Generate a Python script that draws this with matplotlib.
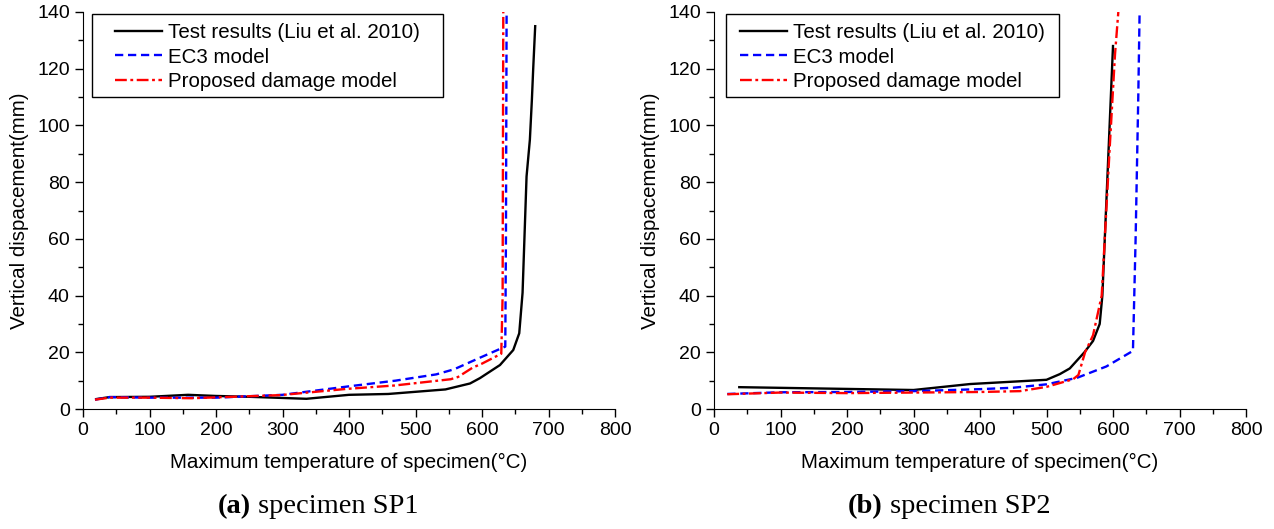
import matplotlib
matplotlib.use("Agg")
import matplotlib.pyplot as plt
from matplotlib.patches import Rectangle
from matplotlib.ticker import MultipleLocator

plt.rcParams['font.family'] = ['Liberation Sans', 'DejaVu Sans']

# specimen SP1 (temperature in C, displacement in mm)
sp1_test_t = [20, 40, 100, 158, 200, 250, 336, 400, 459, 545, 582, 597, 627, 647, 656, 661, 667, 672, 675, 677, 680]
sp1_test_d = [3.5, 4.2, 4.3, 5.0, 4.6, 4.3, 3.6, 5.0, 5.3, 6.9, 9.0, 10.9, 15.5, 20.8, 26.7, 41, 82, 95, 109, 120, 135]
sp1_ec3_t = [18, 40, 100, 200, 300, 400, 470, 531, 558, 598, 635, 636, 637]
sp1_ec3_d = [3.3, 4.2, 4.0, 4.0, 5.0, 8.0, 10.0, 12.2, 14.0, 18.2, 22, 60, 140]
sp1_dmg_t = [18, 40, 100, 163, 200, 297, 397, 469, 553, 564, 586, 600, 629, 631, 632]
sp1_dmg_d = [3.3, 4.0, 4.0, 3.8, 4.1, 4.9, 7.1, 8.3, 10.5, 11.3, 14.6, 16.0, 19.5, 40, 140]

# specimen SP2
sp2_test_t = [38, 300, 385, 500, 520, 535, 557, 570, 580, 584, 600]
sp2_test_d = [7.7, 6.7, 8.8, 10.3, 12.3, 14.3, 20, 24, 30, 40, 128]
sp2_ec3_t = [20, 100, 200, 300, 400, 450, 500, 546, 590, 630, 634, 638, 640]
sp2_ec3_d = [5.3, 5.9, 6.0, 6.3, 7.0, 7.5, 8.7, 11, 15, 20.5, 60, 110, 140]
sp2_dmg_t = [20, 100, 200, 300, 400, 460, 500, 540, 548, 558, 570, 583, 595, 603, 608]
sp2_dmg_d = [5.2, 5.8, 5.6, 5.8, 6.0, 6.3, 7.8, 10.5, 12, 20, 26, 40, 92, 125, 140]

labels = ["Test results (Liu et al. 2010)", "EC3 model", "Proposed damage model"]
captions = [("(a)", " specimen SP1"), ("(b)", " specimen SP2")]

W, H = 1274, 529
AX_W, AX_H = 532, 397
fig = plt.figure(figsize=(W / 100, H / 100), dpi=100)

# axes left edge (px), legend frame left/right (px from axes left), legend entries start (px)
panels = [
    (83, 9, 360, 32, (sp1_test_t, sp1_test_d), (sp1_ec3_t, sp1_ec3_d), (sp1_dmg_t, sp1_dmg_d)),
    (714, 12, 345, 26, (sp2_test_t, sp2_test_d), (sp2_ec3_t, sp2_ec3_d), (sp2_dmg_t, sp2_dmg_d)),
]

for i, (x0, fl, fr, hx, test, ec3, dmg) in enumerate(panels):
    ax = fig.add_axes([x0 / W, (H - 409) / H, AX_W / W, AX_H / H])
    ax.plot(*test, color='black', lw=1.7, label=labels[0])
    ax.plot(*ec3, color='blue', lw=1.7, ls=(0, (3.5, 2)), label=labels[1])
    ax.plot(*dmg, color='red', lw=1.7, ls=(0, (5, 1.5, 1.2, 1.5)), label=labels[2])
    ax.set_xlim(0, 800)
    ax.set_ylim(0, 140)
    ax.xaxis.set_major_locator(MultipleLocator(100))
    ax.xaxis.set_minor_locator(MultipleLocator(50))
    ax.yaxis.set_major_locator(MultipleLocator(20))
    ax.yaxis.set_minor_locator(MultipleLocator(10))
    ax.spines['top'].set_visible(False)
    ax.spines['right'].set_visible(False)
    ax.tick_params(which='major', direction='out', length=6, width=1, labelsize=14)
    ax.tick_params(which='minor', direction='out', length=3.5, width=1)
    ax.set_xlabel("Maximum temperature of specimen(°C)", fontsize=14.8, labelpad=10)
    ax.set_ylabel("Vertical dispacement(mm)", fontsize=14.8, labelpad=6)

    # legend frame drawn separately (wider side padding than matplotlib allows)
    ax.add_patch(Rectangle((fl / AX_W, (409 - 97) / AX_H), (fr - fl) / AX_W, 83 / AX_H,
                           transform=ax.transAxes, facecolor='white', edgecolor='black',
                           lw=1.0, zorder=4, clip_on=False))
    ax.legend(loc='upper left', bbox_to_anchor=(hx / AX_W, (409 - 23) / AX_H), borderaxespad=0,
              frameon=False, fontsize=14.8, handlelength=2.3, borderpad=0,
              labelspacing=0.27, handletextpad=0.3)

    # caption: bold "(a)" followed by normal text, centred under the axes
    bold, rest = captions[i]
    t1 = fig.text(0, 16 / H, bold, fontsize=20.5, fontweight='bold', family='Liberation Serif',
                  va='baseline', ha='left')
    t2 = ax.annotate(rest, xy=(1, 0), xycoords=t1, fontsize=20.5, family='Liberation Serif',
                     va='bottom', ha='left')
    fig.canvas.draw()
    r = fig.canvas.get_renderer()
    total = t1.get_window_extent(r).width + t2.get_window_extent(r).width
    t1.set_x((x0 + 235 - total / 2) / W)

fig.savefig("out.png", dpi=100)
